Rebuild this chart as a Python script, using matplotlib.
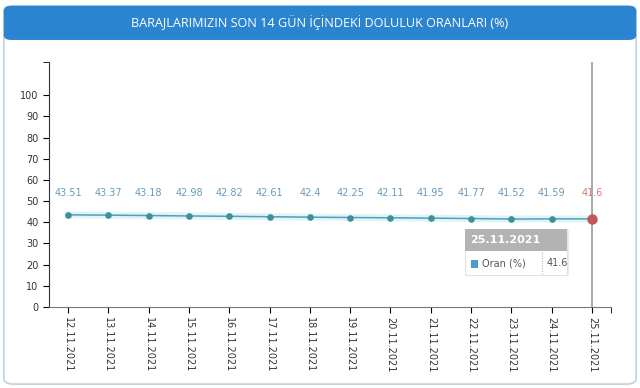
import matplotlib.pyplot as plt
from matplotlib.patches import FancyBboxPatch, Rectangle

dates = ['12.11.2021', '13.11.2021', '14.11.2021', '15.11.2021', '16.11.2021',
         '17.11.2021', '18.11.2021', '19.11.2021', '20.11.2021', '21.11.2021',
         '22.11.2021', '23.11.2021', '24.11.2021', '25.11.2021']
oran = [43.51, 43.37, 43.18, 42.98, 42.82, 42.61, 42.4, 42.25, 42.11, 41.95,
        41.77, 41.52, 41.59, 41.6]
yticks = [0, 10, 20, 30, 40, 50, 60, 70, 80, 90, 100]

fig = plt.figure(figsize=(6.4, 3.88), dpi=100)
fig.patch.set_facecolor('white')

# outer frame and blue header
fig.patches.append(FancyBboxPatch((0.006, 0.01), 0.988, 0.975, boxstyle='round,pad=0,rounding_size=0.015',
                                  transform=fig.transFigure, fc='none', ec='#b9d3e6', lw=1.2, zorder=-1))
fig.patches.append(FancyBboxPatch((0.006, 0.897), 0.988, 0.088, boxstyle='round,pad=0,rounding_size=0.012',
                                  transform=fig.transFigure, fc='#2b84cf', ec='#2b84cf', lw=0, zorder=-1))
fig.text(0.5, 0.943, 'BARAJLARIMIZIN SON 14 GÜN İÇİNDEKİ DOLULUK ORANLARI (%)',
         ha='center', va='center', color='white', fontsize=9.1, family='Open Sans')

ax = fig.add_axes([0.0766, 0.2088, 0.878, 0.631])
ax.patch.set_alpha(0)
x = list(range(len(dates)))

ax.axvline(13, color='#9a9a9a', lw=1.2, zorder=1)
ax.plot(x, oran, color='#d6eef5', lw=5, alpha=0.7, zorder=2)
ax.plot(x, oran, color='#4ba3b8', lw=1.1, zorder=3)
ax.scatter(x[:-1], oran[:-1], s=14, color='#3d8f98', zorder=4)
ax.scatter(x[-1:], oran[-1:], s=42, color='#c1565a', zorder=5)

for i, v in enumerate(oran):
    c = '#d47a72' if i == len(oran) - 1 else '#6a9ab8'
    ax.text(i, 54, f'{v:g}', ha='center', va='center', fontsize=7, color=c)

# tooltip
ax.add_patch(Rectangle((9.9, 14.6), 2.53, 21.7, fc='#eeeeee', ec='none', zorder=5))
ax.add_patch(Rectangle((9.85, 15.1), 2.53, 21.7, fc='white', ec='#e2e2e2', lw=0.8, zorder=6))
ax.add_patch(Rectangle((9.85, 26.4), 2.53, 10.4, fc='#b3b3b3', ec='none', zorder=7))
ax.text(9.98, 31.6, '25.11.2021', ha='left', va='center', fontsize=8, fontweight='bold',
        color='white', zorder=8)
ax.add_patch(Rectangle((10.0, 18.5), 0.17, 3.9, fc='#4b9ccb', ec='none', zorder=8))
ax.text(10.27, 20.7, 'Oran (%)', ha='left', va='center', fontsize=7, color='#555555', zorder=8)
ax.plot([11.77, 11.77], [15.6, 26.0], color='#aaaaaa', lw=0.7, ls=':', zorder=8)
ax.text(11.87, 20.7, '41.6', ha='left', va='center', fontsize=7, color='#555555', zorder=8)

ax.set_xlim(-0.47, 13.47)
ax.set_ylim(0, 115.6)
ax.set_yticks(yticks)
ax.set_yticks([115.6], minor=True)
ax.set_xticks(x)
ax.set_xticks([13.47], minor=True)
ax.set_xticklabels(dates, rotation=270, fontsize=7, color='#333333')
ax.tick_params(axis='y', labelsize=7, labelcolor='#333333', length=4, direction='out')
ax.tick_params(axis='x', length=4, direction='out')
ax.tick_params(which='minor', length=4, direction='out')
for s in ['top', 'right']:
    ax.spines[s].set_visible(False)
ax.spines['left'].set_color('#333333')
ax.spines['bottom'].set_color('#777777')

plt.savefig('out.png', dpi=100)
